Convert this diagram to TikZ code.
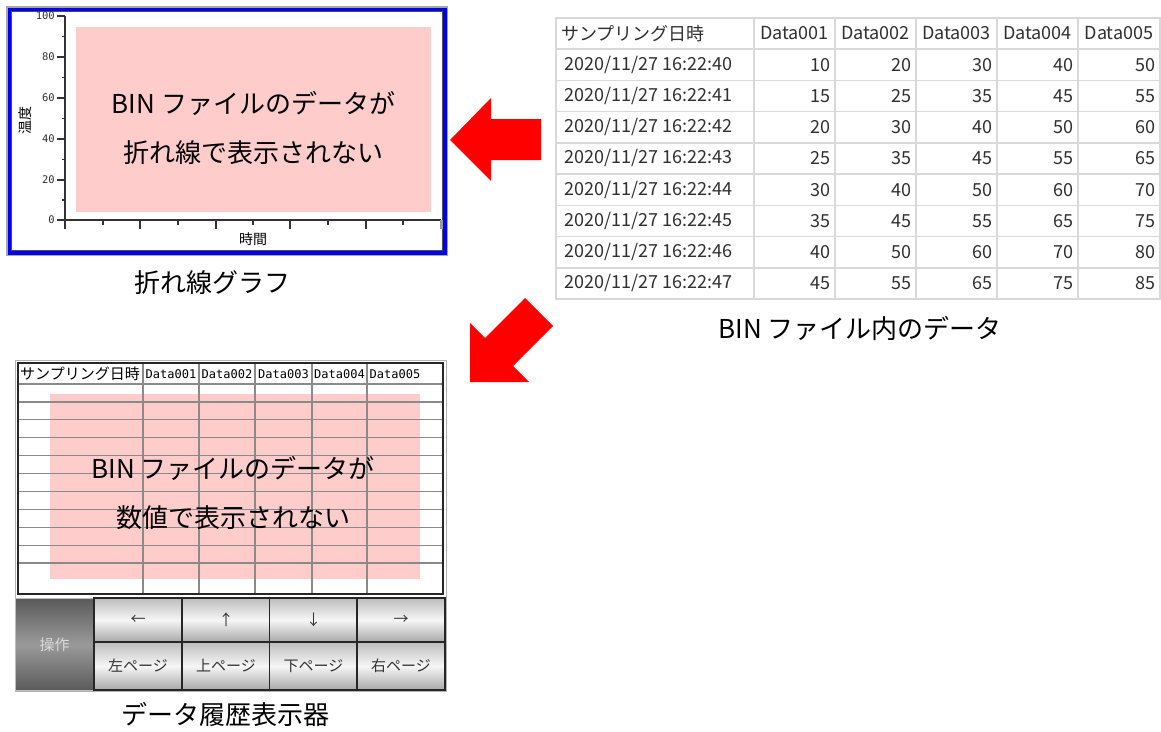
\documentclass[tikz,border=0pt]{standalone}
\usepackage{fontspec}
\setmainfont{Noto Sans CJK JP}
\newfontfamily\monof{DejaVu Sans Mono}
\newcommand\fsz[1]{\fontsize{#1}{#1}\selectfont}
\definecolor{pinkbg}{HTML}{FFCCCC}
\definecolor{arrowred}{HTML}{FF0000}
\definecolor{frameblue}{HTML}{0000F0}
\definecolor{gridlight}{HTML}{D9D9D9}
\definecolor{txtgray}{HTML}{303030}
\definecolor{gridmid}{HTML}{8A8A8A}
\definecolor{btntop}{HTML}{BDBDBD}
\definecolor{btnbot}{HTML}{A8A8A8}
\definecolor{btnmid}{HTML}{F6F6F6}
\definecolor{opdark}{HTML}{5A5A5A}
\definecolor{opmid}{HTML}{9A9A9A}
\tikzset{
  captxt/.style={font=\fsz{26}, inner sep=0pt},
  bigmsg/.style={font=\fsz{26}, inner sep=0pt},
  ylab/.style={anchor=east, font=\monof\fsz{10.5}, inner sep=0pt, text=txtgray},
  axline/.style={line width=1.2pt, draw=black!80},
  celltxt/.style={font=\fsz{18}, inner sep=0pt, text=txtgray},
  numtxt/.style={celltxt, anchor=east},
  hdrtxt/.style={font=\monof\fsz{12}, inner sep=0pt},
  redarrow/.style={fill=arrowred, draw=none},
  btn/.style={draw=black!85, line width=1.3pt, top color=btntop, bottom color=btnbot, middle color=btnmid, minimum width=88pt, minimum height=44pt, inner sep=0pt, font=\fsz{15}, text=black!80},
  opbtn/.style={draw=btntop, line width=1pt, top color=opdark, bottom color=opdark, middle color=opmid, minimum width=78pt, minimum height=92pt, inner sep=0pt, font=\fsz{15}, text=white!85!black},
}
\begin{document}
\begin{tikzpicture}[x=1pt,y=-1pt]
\useasboundingbox (0,0) rectangle (1161,731);
\fill[white] (0,0) rectangle (1161,731);

% ---------------- graph window ----------------
\fill[gray!70] (6,6) rectangle (448,256);
\fill[frameblue] (7.5,7.5) rectangle (446.5,254.5);
\fill[black!70] (10.8,10.8) rectangle (443.2,251.2);
\fill[white] (12.3,12.3) rectangle (441.7,249.7);
\fill[pinkbg] (76,27) rectangle (431,212);
\draw[axline] (65,16) -- (65,220) -- (441,220);
\foreach \v/\yy in {100/16,80/57,60/98,40/139,20/180,0/220}{
  \draw[axline] (57,\yy) -- (65,\yy);
  \node[ylab] (yl\v) at (55,\yy) {\v};
}
\foreach \yy in {36.5,77.5,118.5,159.5,200}{
  \draw[axline] (61.5,\yy) -- (65,\yy);
}
\foreach \xx in {65,140,216,290,366}{
  \draw[axline] (\xx,220) -- (\xx,229);
}
\foreach \xx in {103,178,253,328,403}{
  \draw[axline] (\xx,220) -- (\xx,225);
}
\fill[gray!80] (440,220) rectangle (442.5,229);
\node[font=\fsz{14}, inner sep=0pt] (xlabel) at (253,239) {時間};
\node[font=\fsz{14}, inner sep=0pt, rotate=90] (ylabel) at (25,120) {温度};
\node[bigmsg] (gmsg1) at (253.5,103) {BIN ファイルのデータが};
\node[bigmsg] (gmsg2) at (253.5,153) {折れ線で表示されない};
\node[captxt] (gcap) at (212,283) {折れ線グラフ};

% ---------------- arrows ----------------
\path[redarrow] (450,140) -- (491,98) -- (491,119) -- (541,119) -- (541,160) -- (491,160) -- (491,181) -- cycle;
\path[redarrow] (470,382) -- (470,323) -- (485,338) -- (525,298) -- (553,326) -- (513,366) -- (529,382) -- cycle;

% ---------------- BIN table ----------------
\draw[gridlight, line width=1.5pt] (556,18) rectangle (1160,299);
\foreach \xx in {754,835,916,997,1078}{
  \draw[gridlight, line width=1.5pt] (\xx,18) -- (\xx,299);
}
\foreach \k in {0,...,7}{
  \draw[gridlight, line width=1.5pt] (556,49+31.25*\k) -- (1160,49+31.25*\k);
}
\node[celltxt, anchor=west] (th0) at (561,33.5) {サンプリング日時};
\foreach \c/\cx in {1/794.5,2/875.5,3/956.5,4/1037.5,5/1119}{
  \node[celltxt] (th\c) at (\cx,33.5) {Data00\c};
}
\foreach \r in {0,...,7}{
  \pgfmathsetmacro\ry{64.6+31.25*\r}
  \node[celltxt, anchor=west] (td\r) at (564,\ry) {2020/11/27 16:22:4\r};
  \foreach \c/\cr in {1/831,2/912,3/993,4/1074,5/1156}{
    \pgfmathtruncatemacro\val{10*\c+5*\r}
    \node[numtxt] (tv\r\c) at (\cr,\ry) {\val};
  }
}
\node[captxt] (bincap) at (860,328) {BIN ファイル内のデータ};

% ---------------- data history display ----------------
\draw[gray!60, line width=1pt] (15,360) rectangle (446,691);
\fill[white] (18,363) rectangle (443,594);
\fill[pinkbg] (50,394) rectangle (420,579);
\foreach \k in {0,...,10}{
  \draw[gridmid, line width=1.2pt] (18,384+17.9*\k) -- (443,384+17.9*\k);
}
\foreach \xx in {143,199,255,312,367}{
  \draw[gridmid, line width=1.2pt] (\xx,363) -- (\xx,594);
}
\draw[black!85, line width=1.5pt] (18,363) rectangle (443,594);
\node[font=\fsz{15}, inner sep=0pt, anchor=west] (dh0) at (20,374) {サンプリング日時};
\foreach \c/\cx in {1/171,2/227,3/283.5,4/339.5,5/395}{
  \node[hdrtxt] (dh\c) at (\cx,374.5) {Data00\c};
}
\node[bigmsg] (dmsg1) at (233,468) {BIN ファイルのデータが};
\node[bigmsg] (dmsg2) at (233,518) {数値で表示されない};

\node[opbtn] (op) at (54.5,644.5) {操作};
\node[btn] (bl) at (138,620) {←};
\node[btn] (bu) at (226,620) {↑};
\node[btn] (bd) at (313.5,620) {↓};
\node[btn] (br) at (401,620) {→};
\node[btn, minimum height=48pt] (pl) at (138,666) {左ページ};
\node[btn, minimum height=48pt] (pu) at (226,666) {上ページ};
\node[btn, minimum height=48pt] (pd) at (313.5,666) {下ページ};
\node[btn, minimum height=48pt] (pr) at (401,666) {右ページ};
\node[captxt] (dcap) at (225,714) {データ履歴表示器};
\end{tikzpicture}
\end{document}
